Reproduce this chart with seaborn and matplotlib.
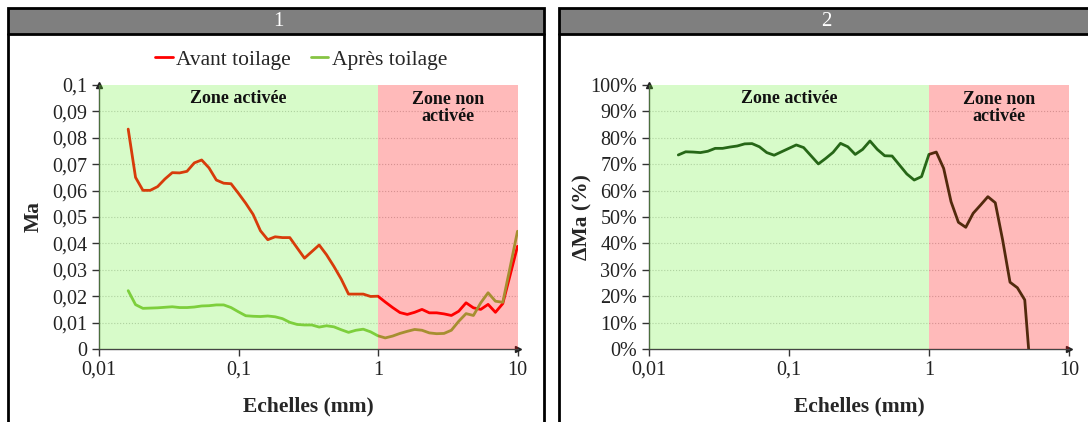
import matplotlib
matplotlib.use("Agg")
import matplotlib.pyplot as plt
import matplotlib.ticker as mticker
from matplotlib.patches import Rectangle
import seaborn as sns
import pandas as pd

# scales (mm), log spaced
echelles = [0.01619, 0.01828, 0.02064, 0.02330, 0.02630, 0.02970, 0.03352, 0.03785,
            0.04272, 0.04823, 0.05444, 0.06146, 0.06938, 0.07832, 0.08841, 0.09980,
            0.1127, 0.1272, 0.1436, 0.1621, 0.1830, 0.2065, 0.2332, 0.2632, 0.2972,
            0.3355, 0.3787, 0.4275, 0.4826, 0.5448, 0.6150, 0.6943, 0.7838, 0.8848,
            0.9988, 1.127, 1.273, 1.437, 1.622, 1.831, 2.067, 2.333, 2.634, 2.974,
            3.357, 3.790, 4.278, 4.830, 5.452, 6.155, 6.948, 7.844, 8.855, 10.0]

ma_avant = [0.0833, 0.0650, 0.0601, 0.0601, 0.0615, 0.0644, 0.0668, 0.0667, 0.0673,
            0.0705, 0.0716, 0.0686, 0.0640, 0.0628, 0.0626, 0.0590, 0.0552, 0.0510,
            0.0448, 0.0414, 0.0425, 0.0422, 0.0422, 0.0383, 0.0344, 0.0369, 0.0394,
            0.0357, 0.0313, 0.0265, 0.0208, 0.0208, 0.0208, 0.0199, 0.0200, 0.0178,
            0.0157, 0.0138, 0.0131, 0.0139, 0.0150, 0.0137, 0.0137, 0.0133, 0.0127,
            0.0143, 0.0175, 0.0156, 0.0150, 0.0169, 0.0139, 0.0172, 0.0280, 0.0389]

ma_apres = [0.0221, 0.0168, 0.0154, 0.0155, 0.0156, 0.0158, 0.0160, 0.0157, 0.0157,
            0.0159, 0.0163, 0.0164, 0.0167, 0.0167, 0.0157, 0.0141, 0.0126, 0.0124,
            0.0123, 0.0125, 0.0122, 0.0115, 0.0101, 0.0093, 0.0091, 0.0091, 0.0083,
            0.0088, 0.0084, 0.0073, 0.0063, 0.0071, 0.0075, 0.0065, 0.0050, 0.0042,
            0.0049, 0.0059, 0.0067, 0.0074, 0.0071, 0.0061, 0.0058, 0.0059, 0.0071,
            0.0105, 0.0134, 0.0127, 0.0175, 0.0213, 0.0181, 0.0177, 0.0310, 0.0446]

# delta Ma (%) - last point goes below 0 and is cut by the axis
delta_ma = [73.5, 74.7, 74.6, 74.4, 74.9, 76.0, 76.0, 76.5, 76.9, 77.7, 77.8, 76.6,
            74.4, 73.4, 74.7, 76.0, 77.3, 76.3, 73.2, 70.1, 72.2, 74.5, 77.9, 76.6,
            73.7, 75.6, 78.8, 75.6, 73.2, 73.1, 69.7, 66.3, 64.0, 65.3, 73.7, 74.6,
            68.4, 55.8, 48.0, 46.1, 51.4, 54.5, 57.7, 55.4, 41.3, 25.3, 23.2, 18.6, -16.7]

xticks = [0.01, 0.1, 1, 10]
xtick_labels = ["0,01", "0,1", "1", "10"]
ma_ticks = [0, 0.01, 0.02, 0.03, 0.04, 0.05, 0.06, 0.07, 0.08, 0.09, 0.1]
ma_tick_labels = ["0", "0,01", "0,02", "0,03", "0,04", "0,05", "0,06", "0,07", "0,08", "0,09", "0,1"]
pct_ticks = [0, 10, 20, 30, 40, 50, 60, 70, 80, 90, 100]
pct_tick_labels = [f"{p}%" for p in pct_ticks]

df = pd.DataFrame({"echelle": echelles, "avant": ma_avant, "apres": ma_apres})
df_delta = pd.DataFrame({"echelle": echelles[:len(delta_ma)], "delta": delta_ma})

sns.set_theme(style="ticks")
plt.rcParams["font.family"] = ["Liberation Serif", "DejaVu Serif"]

W, H = 1088, 422
fig = plt.figure(figsize=(W / 100, H / 100), dpi=100)


def fx(x):
    return x / W


def fy(y):
    return 1 - y / H


# panel frames and grey headers
for x0, x1, num in [(7.5, 543.5, "1"), (558.5, 1095, "2")]:
    fig.patches.append(Rectangle((fx(x0), fy(34)), fx(x1 - x0), 26 / H, transform=fig.transFigure,
                                 facecolor="#7f7f7f", edgecolor="none", zorder=0))
    fig.patches.append(Rectangle((fx(x0), fy(440)), fx(x1 - x0), 432 / H, transform=fig.transFigure,
                                 facecolor="none", edgecolor="black", lw=2, zorder=1))
    fig.lines.append(plt.Line2D([fx(x0), fx(x1)], [fy(34), fy(34)], transform=fig.transFigure,
                                color="black", lw=2))
    fig.text(fx((x0 + min(x1, 1088)) / 2 + 3), fy(21), num, color="white", fontsize=15,
             ha="center", va="center")

green_zone = (0.39, 0.94, 0.16)
red_zone = (1.0, 0.0, 0.0)


def style_axis(ax, yticks, ylabels, ylabel, ylab_x):
    ax.set_xscale("log")
    ax.set_xlim(0.01, 10)
    ax.set_ylim(yticks[0], yticks[-1])
    ax.xaxis.set_major_locator(mticker.FixedLocator(xticks))
    ax.xaxis.set_major_formatter(mticker.FixedFormatter(xtick_labels))
    ax.xaxis.set_minor_locator(mticker.NullLocator())
    ax.set_yticks(yticks)
    ax.set_yticklabels(ylabels)
    ax.tick_params(axis="both", labelsize=14.5, colors="#333333", length=5, width=1,
                   labelcolor="#222222")
    for t in yticks[1:-1]:
        ax.axhline(t, color="#c8c8c8", lw=0.8, ls=":", zorder=1)
    for s in ["top", "right"]:
        ax.spines[s].set_visible(False)
    for s in ["left", "bottom"]:
        ax.spines[s].set_color("#444444")
        ax.spines[s].set_linewidth(1)
    ax.plot([0], [1], marker="^", ms=4, color="#222222", transform=ax.transAxes, clip_on=False)
    ax.plot([1], [0], marker=">", ms=4, color="#222222", transform=ax.transAxes, clip_on=False)
    # shaded zones (drawn over the curves, like the original)
    ax.axvspan(0.01, 1, color=green_zone, alpha=0.25, lw=0, zorder=3)
    ax.axvspan(1, 10, color=red_zone, alpha=0.27, lw=0, zorder=3)
    trans = ax.get_xaxis_transform()
    ax.text(0.1, 0.95, "Zone activée", transform=trans, ha="center", va="center",
            fontsize=13, fontweight="bold", color="#111111", zorder=5)
    ax.text(3.162, 0.913, "Zone non\nactivée", transform=trans, ha="center", va="center",
            fontsize=13, fontweight="bold", color="#111111", linespacing=1.05, zorder=5)
    ax.set_xlabel("Echelles (mm)", fontsize=15.5, fontweight="bold")
    ax.set_ylabel(ylabel, fontsize=15.5, fontweight="bold")
    ax.xaxis.set_label_coords(0.5, -0.18)
    ax.yaxis.set_label_coords(ylab_x, 0.5)


# left: Ma before / after
ax1 = fig.add_axes([fx(99), fy(349), fx(418.5), 264 / H])
sns.lineplot(data=df, x="echelle", y="avant", ax=ax1, color="#ff0000", lw=2,
             label="Avant toilage", zorder=2)
sns.lineplot(data=df, x="echelle", y="apres", ax=ax1, color="#86c443", lw=2,
             label="Après toilage", zorder=2)
style_axis(ax1, ma_ticks, ma_tick_labels, "Ma", -0.132)
ax1.legend(loc="center", bbox_to_anchor=(0.483, 1.095), ncol=2, frameon=False, fontsize=15.5,
           handlelength=0.8, handletextpad=0.15, columnspacing=0.95, borderaxespad=0)

# right: delta Ma
ax2 = fig.add_axes([fx(649), fy(349), fx(420), 264 / H])
sns.lineplot(data=df_delta, x="echelle", y="delta", ax=ax2, color="#123a12", lw=2, zorder=2)
style_axis(ax2, pct_ticks, pct_tick_labels, "ΔMa (%)", -0.134)

fig.savefig("out.png", dpi=100)
